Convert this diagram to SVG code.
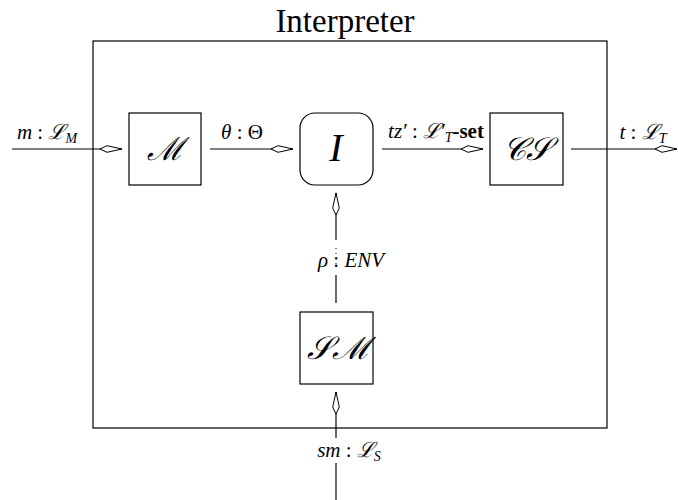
<svg xmlns="http://www.w3.org/2000/svg" width="678" height="500" viewBox="0 0 678 500">
<style>
.ln{stroke:#000;stroke-width:1.2;fill:none}
.box{fill:#fff;stroke:#000;stroke-width:1.2}
.lbl{font-family:"Liberation Serif","DejaVu Serif",serif;font-size:21px;font-style:italic;fill:#000}
.up{font-style:normal}
.cal{font-family:"DejaVu Serif","Liberation Serif",serif;font-style:italic;fill:#000}
.title{font-family:"Liberation Serif","DejaVu Serif",serif;font-size:33px;fill:#000}
</style>
<defs>
<marker id="dia" viewBox="-1 -5 25 10" refX="22" refY="0" markerWidth="25" markerHeight="10" markerUnits="userSpaceOnUse" orient="auto">
<path d="M0,0 L7,-3.3 L22,0 L7,3.3 Z" fill="#fff" stroke="#000" stroke-width="1"/>
</marker>
</defs>
<g id="frame">
<rect x="93" y="41" width="514" height="387" fill="none" stroke="#000" stroke-width="1.2"/>
<text class="title" x="345" y="32" text-anchor="middle">Interpreter</text>
</g>
<g id="connectors">
<line class="ln" x1="12" y1="149" x2="122" y2="149" marker-end="url(#dia)"/>
<line class="ln" x1="210" y1="149" x2="293" y2="149" marker-end="url(#dia)"/>
<line class="ln" x1="382" y1="149" x2="483" y2="149" marker-end="url(#dia)"/>
<line class="ln" x1="571" y1="149" x2="677" y2="149" marker-end="url(#dia)"/>
<line class="ln" x1="336" y1="240" x2="336" y2="193" marker-end="url(#dia)"/>
<line class="ln" x1="336" y1="275" x2="336" y2="303"/>
<line x1="336" y1="248" x2="336" y2="266" stroke="#000" stroke-width="1" stroke-dasharray="1 4"/>
<line class="ln" x1="336" y1="438" x2="336" y2="392" marker-end="url(#dia)"/>
<line class="ln" x1="336" y1="463" x2="336" y2="500"/>
<text class="lbl" x="47" y="139" text-anchor="middle">m <tspan class="up">:</tspan> ℒ<tspan dy="4" font-size="14">M</tspan></text>
<text class="lbl" x="242" y="139" text-anchor="middle">θ <tspan class="up">: Θ</tspan></text>
<text class="lbl" x="436" y="138" text-anchor="middle">tz′ <tspan class="up">:</tspan> ℒ′<tspan dy="4" font-size="14">T</tspan><tspan dy="-4" class="up" font-weight="bold">-set</tspan></text>
<text class="lbl" x="643" y="139" text-anchor="middle">t <tspan class="up">:</tspan> ℒ<tspan dy="4" font-size="14">T</tspan></text>
<text class="lbl" x="351" y="267" text-anchor="middle">ρ <tspan class="up">:</tspan> ENV</text>
<text class="lbl" x="349" y="457" text-anchor="middle">sm <tspan class="up">:</tspan> ℒ<tspan dy="4" font-size="14">S</tspan></text>
</g>
<g id="node-M">
<rect class="box" x="129" y="113" width="72" height="72"/>
<text class="cal" x="165" y="160" font-size="32" text-anchor="middle">ℳ</text>
</g>
<g id="node-I">
<rect class="box" x="300" y="113" width="73" height="72" rx="15" ry="15"/>
<text class="lbl" x="336" y="161" text-anchor="middle" style="font-size:40px">I</text>
</g>
<g id="node-CS">
<rect class="box" x="490" y="113" width="73" height="72"/>
<text class="cal" x="527" y="160" font-size="32" text-anchor="middle">𝒞𝒮</text>
</g>
<g id="node-SM">
<rect class="box" x="300" y="312" width="73" height="72"/>
<text class="cal" x="337" y="359" font-size="32" text-anchor="middle">𝒮ℳ</text>
</g>
</svg>
